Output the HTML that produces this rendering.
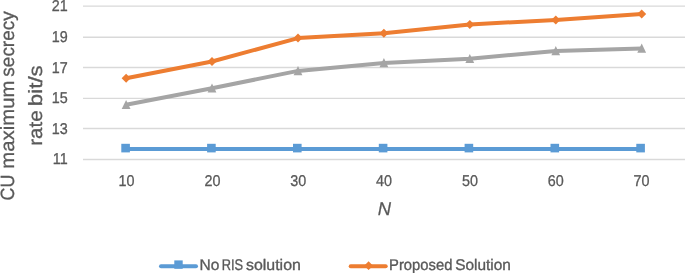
<!DOCTYPE html>
<html><head><meta charset="utf-8">
<style>
html,body{margin:0;padding:0;background:#fff;}
body{width:685px;height:273px;overflow:hidden;}
svg{display:block;will-change:transform;filter:blur(0.3px);}
text{font-family:"Liberation Sans",sans-serif;fill:#595959;stroke:#595959;text-rendering:geometricPrecision;}
</style></head>
<body>
<svg width="685" height="273" viewBox="0 0 685 273">
<g stroke="#d9d9d9" stroke-width="1.4">
<line x1="83" y1="6.15" x2="685" y2="6.15"/>
<line x1="83" y1="37.2" x2="685" y2="37.2"/>
<line x1="83" y1="67.5" x2="685" y2="67.5"/>
<line x1="83" y1="98.4" x2="685" y2="98.4"/>
<line x1="83" y1="128.5" x2="685" y2="128.5"/>
<line x1="83" y1="159.5" x2="685" y2="159.5"/>
</g>
<g font-size="15.6" text-anchor="end" stroke-width="0.3">
<text transform="translate(67.7,11.20) scale(0.92,1)">21</text>
<text transform="translate(67.7,42.20) scale(0.92,1)">19</text>
<text transform="translate(67.7,72.70) scale(0.92,1)">17</text>
<text transform="translate(67.7,103.40) scale(0.92,1)">15</text>
<text transform="translate(67.7,134.20) scale(0.92,1)">13</text>
<text transform="translate(67.7,164.30) scale(0.92,1)">11</text>
</g>
<g font-size="15.6" text-anchor="middle" stroke-width="0.3">
<text transform="translate(126.60,185.6) scale(0.92,1)">10</text>
<text transform="translate(212.42,185.6) scale(0.92,1)">20</text>
<text transform="translate(298.24,185.6) scale(0.92,1)">30</text>
<text transform="translate(384.06,185.6) scale(0.92,1)">40</text>
<text transform="translate(469.88,185.6) scale(0.92,1)">50</text>
<text transform="translate(555.70,185.6) scale(0.92,1)">60</text>
<text transform="translate(641.52,185.6) scale(0.92,1)">70</text>
</g>
<text x="384.3" y="215.3" font-size="18.4" font-style="italic" text-anchor="middle" stroke-width="0.25">N</text>
<g font-size="19.2" stroke-width="0.3">
<text transform="translate(13.9,0) rotate(-90)" x="-200.53" y="0" textLength="25.81" lengthAdjust="spacingAndGlyphs">CU</text>
<text transform="translate(13.9,0) rotate(-90)" x="-168.67" y="0" textLength="88.0" lengthAdjust="spacingAndGlyphs">maximum</text>
<text transform="translate(13.9,0) rotate(-90)" x="-76.64" y="0" textLength="65.29" lengthAdjust="spacingAndGlyphs">secrecy</text>
<text transform="translate(41.8,0) rotate(-90)" x="-145.79" y="0" textLength="35.49" lengthAdjust="spacingAndGlyphs">rate</text>
<text transform="translate(41.8,0) rotate(-90)" x="-106.15" y="0" textLength="40.88" lengthAdjust="spacingAndGlyphs">bit/s</text>
</g>
<polyline fill="none" stroke="#5b9bd5" stroke-width="4" stroke-linejoin="round" points="125.7,149.0 211.5,149.0 297.4,149.0 383.2,149.0 469.0,149.0 554.9,149.0 640.7,149.0"/>
<g fill="#5b9bd5">
<rect x="121.3" y="143.8" width="8.6" height="8.6"/>
<rect x="207.1" y="143.8" width="8.6" height="8.6"/>
<rect x="293.0" y="143.8" width="8.6" height="8.6"/>
<rect x="378.8" y="143.8" width="8.6" height="8.6"/>
<rect x="464.6" y="143.8" width="8.6" height="8.6"/>
<rect x="550.5" y="143.8" width="8.6" height="8.6"/>
<rect x="636.3" y="143.8" width="8.6" height="8.6"/>
</g>
<polyline fill="none" stroke="#a5a5a5" stroke-width="4" stroke-linejoin="round" points="126.1,104.80000000000001 212.0,88.2 298.0,70.9 383.9,62.9 469.8,58.699999999999996 555.8,50.9 641.7,48.4"/>
<g fill="#a5a5a5">
<path d="M126.1,100.0 L130.5,109.1 L121.7,109.1Z"/>
<path d="M212.0,83.4 L216.4,92.5 L207.6,92.5Z"/>
<path d="M298.0,66.1 L302.4,75.2 L293.6,75.2Z"/>
<path d="M383.9,58.1 L388.3,67.2 L379.5,67.2Z"/>
<path d="M469.8,53.9 L474.2,63.0 L465.4,63.0Z"/>
<path d="M555.8,46.1 L560.1,55.2 L551.4,55.2Z"/>
<path d="M641.7,43.6 L646.1,52.7 L637.3,52.7Z"/>
</g>
<polyline fill="none" stroke="#ed7d31" stroke-width="4" stroke-linejoin="round" points="126.1,78.3 212.0,61.5 298.0,38.1 383.9,33.2 469.8,24.4 555.8,20.0 641.7,14.0"/>
<g fill="#ed7d31">
<path d="M126.1,73.8 L130.6,78.3 L126.1,82.8 L121.6,78.3Z"/>
<path d="M212.0,57.0 L216.5,61.5 L212.0,66.0 L207.5,61.5Z"/>
<path d="M298.0,33.6 L302.5,38.1 L298.0,42.6 L293.5,38.1Z"/>
<path d="M383.9,28.7 L388.4,33.2 L383.9,37.7 L379.4,33.2Z"/>
<path d="M469.8,19.9 L474.3,24.4 L469.8,28.9 L465.3,24.4Z"/>
<path d="M555.8,15.5 L560.2,20.0 L555.8,24.5 L551.2,20.0Z"/>
<path d="M641.7,9.5 L646.2,14.0 L641.7,18.5 L637.2,14.0Z"/>
</g>
<line x1="161" y1="266.2" x2="196" y2="266.2" stroke="#5b9bd5" stroke-width="4" stroke-linecap="round"/>
<rect x="174.3" y="260.4" width="8.4" height="8.4" fill="#5b9bd5"/>
<text x="199.61" y="269.8" font-size="15.4" textLength="19.84" lengthAdjust="spacingAndGlyphs" stroke-width="0.35">No</text>
<text x="221.73" y="269.8" font-size="15.4" textLength="21.37" lengthAdjust="spacingAndGlyphs" stroke-width="0.35">RIS</text>
<text x="246.02" y="269.8" font-size="15.4" textLength="54.84" lengthAdjust="spacingAndGlyphs" stroke-width="0.35">solution</text>
<line x1="350.7" y1="266.2" x2="385.7" y2="266.2" stroke="#ed7d31" stroke-width="4" stroke-linecap="round"/>
<path d="M368.6,261.3 L373,265.7 L368.6,270.1 L364.2,265.7Z" fill="#ed7d31"/>
<text x="389.07" y="269.8" font-size="15.4" textLength="63.33" lengthAdjust="spacingAndGlyphs" stroke-width="0.35">Proposed</text>
<text x="455.28" y="269.8" font-size="15.4" textLength="55.65" lengthAdjust="spacingAndGlyphs" stroke-width="0.35">Solution</text>
</svg>
</body></html>
